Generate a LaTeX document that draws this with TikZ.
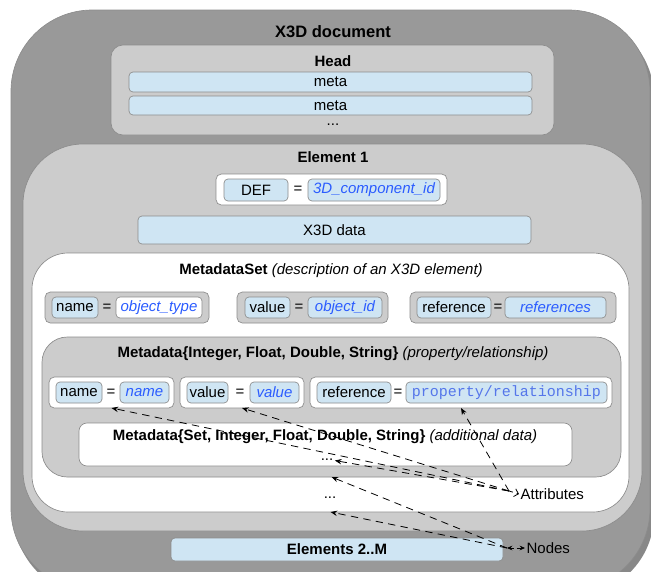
\documentclass[tikz,border=0pt]{standalone}
\usepackage{fontspec}
\setmainfont{Liberation Sans}
\newfontfamily\codefont{Liberation Mono}
\usetikzlibrary{arrows.meta}

\definecolor{docgray}{HTML}{999999}
\definecolor{shadegray}{HTML}{888888}
\definecolor{panelgray}{HTML}{CCCCCC}
\definecolor{rimgray}{HTML}{8C8C8C}
\definecolor{fieldblue}{HTML}{CFE5F3}
\definecolor{valblue}{HTML}{2B5CFF}
\definecolor{codeblue}{HTML}{5576EA}

\newcommand\bodysize{\fontsize{11.25}{13.5}\selectfont}
\newcommand\titlesize{\fontsize{12.4}{14.5}\selectfont}

% a node spanning the corners (x1,y1)-(x2,y2), in pixel units
\newcommand\spanbox[7]{%
  \node[#2, minimum width={(#5-#3)*0.75pt}, minimum height={(#6-#4)*0.75pt}]
    (#1) at ({(#3+#5)/2},{(#4+#6)/2}) {#7};}

\tikzset{
  every node/.style={font=\bodysize, inner sep=1pt},
  box/.style={draw=rimgray, line width=0.5pt, inner sep=0pt, outer sep=0pt},
  panel/.style={box, fill=panelgray},
  grp/.style={box, rounded corners=4pt},
  field/.style={box, fill=fieldblue, rounded corners=3pt},
  valtext/.style={text=valblue, font=\bodysize\itshape},
  codetext/.style={text=codeblue, font=\bodysize\codefont},
  dots/.style={anchor=base, inner sep=0pt},
  link/.style={dashed, dash pattern=on 5.5pt off 4pt, line width=0.6pt,
    -{Stealth[length=5pt,width=4pt]}},
}

\begin{document}
\begin{tikzpicture}[x=0.75pt, y=-0.75pt]
\useasboundingbox (0,0) rectangle (651,572);
\clip (0,0) rectangle (651,572);

% document frame with its shadow
\spanbox{docshade}{fill=shadegray, rounded corners=61pt, inner sep=0pt}{14}{16}{654}{596}{}
\spanbox{doc}{box, fill=docgray, rounded corners=61pt}{11}{10}{650}{590}{}
\node[font=\titlesize\bfseries] (doctitle) at (333,32) {X3D document};

% head section
\spanbox{head}{panel, rounded corners=9pt}{111}{45}{554}{135}{}
\node[font=\bodysize\bfseries] (headtitle) at (333,61) {Head};
\spanbox{meta1}{field}{129}{72}{532}{92}{meta}
\spanbox{meta2}{field}{129}{96}{532}{115}{meta}
\node[dots] (headdots) at (333,125) {...};

% element 1
\spanbox{elem}{panel, rounded corners=45pt}{23}{144}{642}{531}{}
\node[font=\bodysize\bfseries] (elemtitle) at (333,157) {Element 1};
\spanbox{defgrp}{grp, fill=white}{216}{174}{447}{205}{}
\spanbox{defkey}{field}{224}{179}{288}{201}{DEF}
\node (defeq) at (298,190) {=};
\spanbox{defval}{field, valtext}{308}{179}{440}{201}{3D\_component\_id}
\spanbox{x3d}{field}{138}{216}{531}{244}{X3D data}

% metadata set
\spanbox{mset}{box, fill=white, rounded corners=27pt}{32}{253}{629}{512}{}
\node (msettitle) at (331,271) {\textbf{MetadataSet} \textit{(description of an X3D element)}};

\spanbox{ga}{grp, fill=panelgray}{45}{292}{209}{323}{}
\spanbox{gakey}{field}{52}{297}{98}{318}{name}
\node (gaeq) at (107,307.5) {=};
\spanbox{gaval}{field, fill=white, valtext}{116}{297}{202}{318}{object\_type}

\spanbox{gb}{grp, fill=panelgray}{237}{292}{388}{323}{}
\spanbox{gbkey}{field}{245}{297}{290}{318}{value}
\node (gbeq) at (299,307.5) {=};
\spanbox{gbval}{field, valtext}{308}{297}{382}{318}{object\_id}

\spanbox{gc}{grp, fill=panelgray}{410}{292}{616}{323}{}
\spanbox{gckey}{field}{417}{297}{491}{318}{reference}
\node (gceq) at (498,307.5) {=};
\spanbox{gcval}{field, valtext}{505}{297}{606}{318}{references}

% metadata property
\spanbox{mdata}{panel, rounded corners=19pt}{42}{337}{621}{477}{}
\node (mdatatitle) at (333,354) {\textbf{Metadata\{Integer, Float, Double, String\}} \textit{(property/relationship)}};

\spanbox{ha}{grp, fill=white}{49}{377}{174}{408}{}
\spanbox{hakey}{field}{56}{382}{102}{403}{name}
\node (haeq) at (111,392.5) {=};
\spanbox{haval}{field, valtext}{120}{382}{169}{403}{name}

\spanbox{hb}{grp, fill=white}{180}{377}{304}{408}{}
\spanbox{hbkey}{field}{187}{382}{228}{403}{value}
\node (hbeq) at (240,392.5) {=};
\spanbox{hbval}{field, valtext}{250}{382}{299}{403}{value}

\spanbox{hc}{grp, fill=white}{310}{377}{612}{408}{}
\spanbox{hckey}{field}{317}{382}{391}{403}{reference}
\node (hceq) at (398,392.5) {=};
\spanbox{hcval}{field, codetext}{406}{382}{607}{403}{property/relationship}

% additional data
\spanbox{extra}{box, fill=white, rounded corners=6pt}{79}{423}{572}{466}{}
\node (extratitle) at (325,437) {\textbf{Metadata\{Set, Integer, Float, Double, String\}} \textit{(additional data)}};
\node[dots] (extradots) at (327,460) {...};

\node[dots] (msetdots) at (330,498) {...};

% further elements
\spanbox{rest}{field}{171}{538}{503}{561}{\textbf{Elements 2..M}}

% legend labels and their connectors
\node[anchor=west] (attr) at (519,494) {Attributes};
\node[anchor=west] (nodelbl) at (525,548) {Nodes};
\coordinate (ahub) at (509,491);
\coordinate (nhub) at (507,548);

\draw[link] (ahub) -- (ha.south);
\draw[link] (ahub) -- (hb.south);
\draw[link] (ahub) -- (hc.south);
\draw[link] (ahub) -- ([xshift=1pt,yshift=-1pt]extradots.east);
\draw[dashed, line width=0.6pt, -{Straight Barb[length=3pt]}] (ahub) -- (attr.west);

\draw[link] (nhub) -- (mdata.south);
\draw[link] (nhub) -- (mset.south);
\draw[line width=0.6pt, dashed, dash pattern=on 3pt off 2pt,
  {Stealth[length=4pt,width=3.5pt]}-{Stealth[length=4pt,width=3.5pt]}] (nhub) -- (nodelbl.west);
\end{tikzpicture}
\end{document}
